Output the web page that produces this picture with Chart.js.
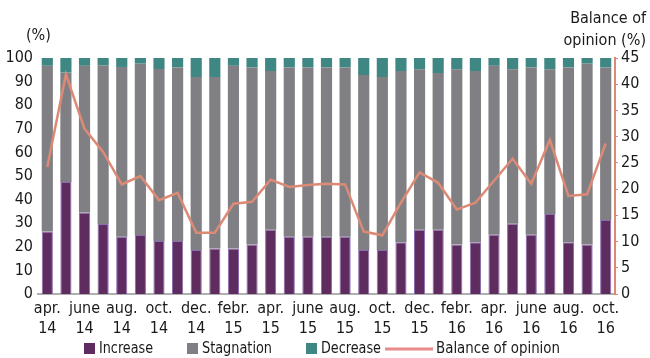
<!DOCTYPE html>
<html lang="en">
<head>
  <meta charset="UTF-8">
  <title>Increase / Stagnation / Decrease and balance of opinion</title>
  <script src="https://cdn.jsdelivr.net/npm/chart.js"></script>
  <style>
    html, body {
      margin: 0;
      padding: 0;
      background: #fff;
    }
    #wrap {
      width: 650px;
      height: 358px;
    }
  </style>
</head>
<body>
  <div id="wrap"><canvas id="grafico" width="650" height="358"></canvas></div>

  <script>
    // months, apr. 14 to oct. 16
    const months = [
      'apr. 14', 'may 14', 'june 14', 'july 14', 'aug. 14', 'sept. 14', 'oct. 14', 'nov. 14',
      'dec. 14', 'jan. 15', 'febr. 15', 'mar. 15', 'apr. 15', 'may 15', 'june 15', 'july 15',
      'aug. 15', 'sept. 15', 'oct. 15', 'nov. 15', 'dec. 15', 'jan. 16', 'febr. 16', 'mar. 16',
      'apr. 16', 'may 16', 'june 16', 'july 16', 'aug. 16', 'sept. 16', 'oct. 16'
    ];

    const increase = [
      26.5, 47.5, 34.5, 29.7, 24.3, 25, 22.5, 22.5, 18.6, 19.3, 19.3, 21, 27.2, 24.3, 24.3, 24.3,
      24.3, 18.6, 18.6, 21.9, 27.2, 27.2, 21, 21.9, 25.1, 29.8, 25.1, 33.9, 21.9, 21, 31.4
    ];
    const decrease = [
      3.3, 6.2, 3.3, 3.2, 3.8, 2.4, 4.7, 4, 8.1, 8.1, 3.3, 4, 5.5, 4, 4, 4,
      4, 7.2, 8.1, 5.5, 4.8, 6.4, 4.8, 5.5, 3.3, 4.8, 4, 4.8, 4, 2.4, 4
    ];
    const stagnation = increase.map((v, i) => +(100 - v - decrease[i]).toFixed(1));

    const balance = [
      24.2, 41.9, 31.5, 27.1, 20.9, 22.5, 17.9, 19.3, 11.7, 11.7, 17.2, 17.6, 21.8, 20.4, 20.8, 21,
      20.9, 11.9, 11.2, 17.4, 23.2, 21.2, 16.1, 17.4, 21.6, 25.8, 21, 29.4, 18.7, 19, 28.7
    ];

    const leftTicks = [0, 10, 20, 30, 40, 50, 60, 70, 80, 90, 100];
    const rightTicks = [0, 5, 10, 15, 20, 25, 30, 35, 40, 45];

    const FONT = "'Liberation Sans Narrow', 'Arial Narrow', 'DejaVu Sans Condensed', sans-serif";
    const TXT = '#1a1a1a';
    const SALMON = '#dc8a76';

    // titles above the axes and the legend at the bottom
    const extras = {
      id: 'extras',
      afterDraw(chart) {
        const ctx = chart.ctx;
        ctx.save();
        ctx.fillStyle = TXT;
        ctx.font = '16px ' + FONT;
        ctx.textBaseline = 'middle';
        ctx.textAlign = 'left';
        ctx.fillText('(%)', 26, 36);
        ctx.textAlign = 'right';
        ctx.fillText('Balance of', 646, 19);
        ctx.fillText('opinion (%)', 646, 41);

        // legend, same spots as the original (text squeezed a bit like the condensed face)
        const starts = [84, 187, 306, 385];
        const widths = [54, 70, 60, 124];
        const y = 349;
        ctx.font = '16px ' + FONT;
        ctx.textAlign = 'left';
        chart.data.datasets.forEach((d, i) => {
          const line = d.type === 'line';
          let x = starts[i];
          if (line) {
            ctx.fillStyle = '#e8898a';
            ctx.fillRect(x, y - 1.5, 48, 3);
            x += 51;
          } else {
            ctx.fillStyle = d.backgroundColor;
            ctx.fillRect(x, y - 6, 11, 11);
            x += 15;
          }
          ctx.fillStyle = TXT;
          ctx.fillText(d.label, x, y, widths[i]);
        });
        ctx.restore();
      }
    };

    const ctx = document.getElementById('grafico').getContext('2d');
    new Chart(ctx, {
      data: {
        labels: months,
        datasets: [
          {
            type: 'bar',
            label: 'Increase',
            data: increase,
            yAxisID: 'y',
            backgroundColor: '#5e2c5f',
            borderColor: '#8a6cb2',
            borderWidth: 1,
            order: 1
          },
          {
            type: 'bar',
            label: 'Stagnation',
            data: stagnation,
            yAxisID: 'y',
            backgroundColor: '#808084',
            borderWidth: 0,
            order: 1
          },
          {
            type: 'bar',
            label: 'Decrease',
            data: decrease,
            yAxisID: 'y',
            backgroundColor: '#3f8783',
            borderWidth: 0,
            order: 1
          },
          {
            type: 'line',
            label: 'Balance of opinion',
            data: balance,
            yAxisID: 'y2',
            borderColor: SALMON,
            backgroundColor: SALMON,
            borderWidth: 2.5,
            pointRadius: 0,
            tension: 0,
            order: 0
          }
        ]
      },
      options: {
        responsive: false,
        animation: false,
        layout: { padding: { top: 58, bottom: 20, left: 0, right: 0 } },
        plugins: {
          legend: { display: false },
          tooltip: { enabled: false }
        },
        datasets: {
          bar: { categoryPercentage: 1, barPercentage: 0.6 }
        },
        scales: {
          x: {
            stacked: true,
            grid: { display: false, drawTicks: false },
            border: { display: true, color: '#b0b0b0', width: 2 },
            afterFit: s => { s.height = 44; },
            ticks: {
              autoSkip: false,
              maxRotation: 0,
              padding: 4,
              color: TXT,
              font: { family: FONT, size: 16, lineHeight: 1.3 },
              callback: function (v, i) {
                if (i % 2) return '';
                return months[i].split(' ');
              }
            }
          },
          y: {
            stacked: true,
            position: 'left',
            min: 0,
            max: 100,
            afterFit: s => { s.width = 38; },
            afterBuildTicks: s => { s.ticks = leftTicks.map(v => ({ value: v })); },
            grid: { display: false, drawTicks: false },
            border: { display: false },
            ticks: {
              padding: 5,
              color: TXT,
              font: { family: FONT, size: 16 }
            }
          },
          y2: {
            position: 'right',
            min: 0,
            max: 45,
            afterFit: s => { s.width = 35; },
            afterBuildTicks: s => { s.ticks = rightTicks.map(v => ({ value: v })); },
            grid: { display: true, drawOnChartArea: false, drawTicks: true, tickLength: 3, color: SALMON },
            border: { display: true, color: SALMON, width: 2 },
            ticks: {
              padding: 3,
              color: TXT,
              font: { family: FONT, size: 16 }
            }
          }
        }
      },
      plugins: [extras]
    });
  </script>
</body>
</html>
